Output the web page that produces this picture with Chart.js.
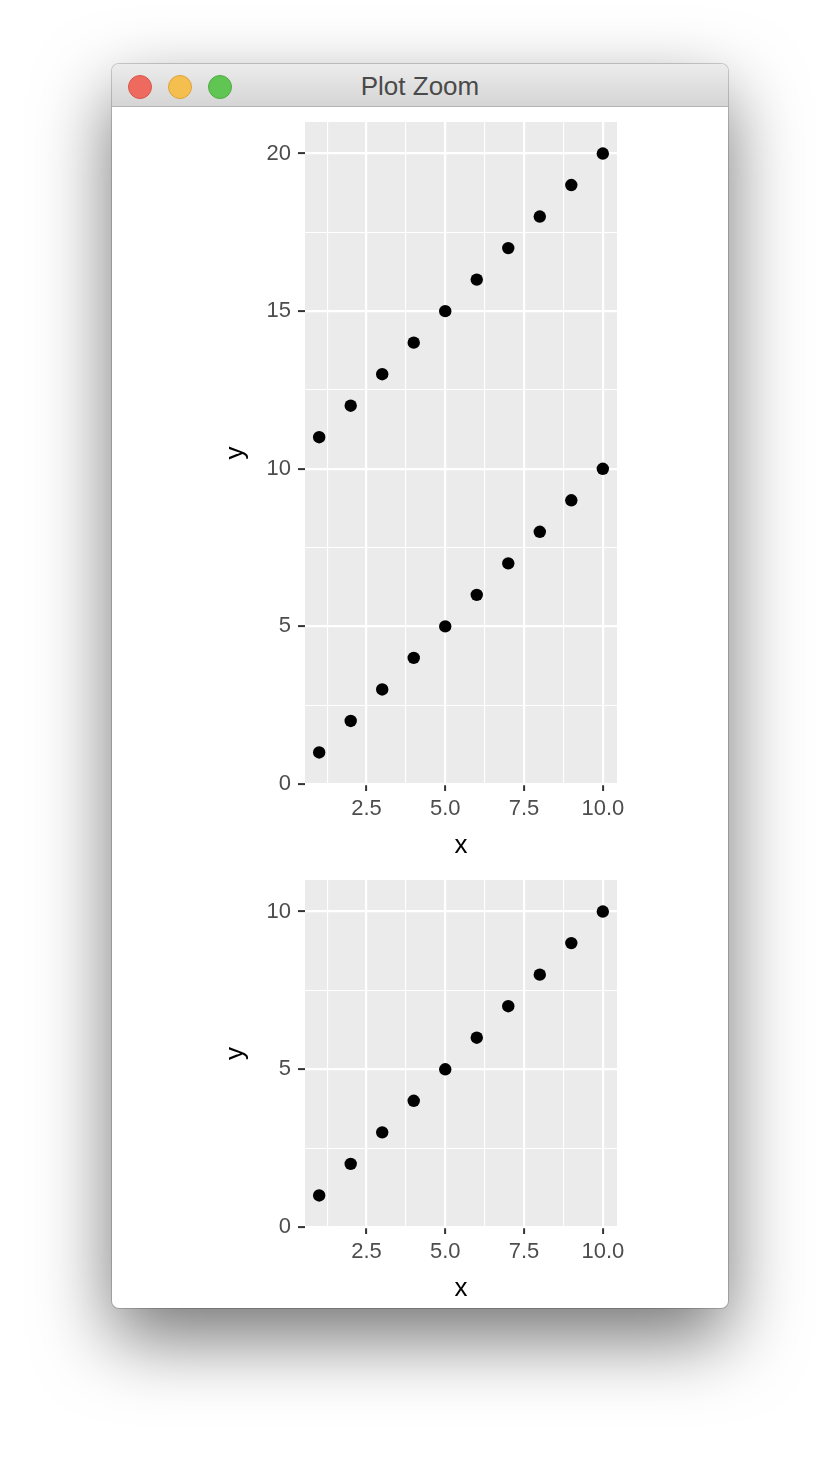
<!DOCTYPE html>
<html>
<head>
<meta charset="utf-8">
<script src="https://cdn.jsdelivr.net/npm/chart.js@4.4.0/dist/chart.umd.min.js"></script>
<style>
  html, body { margin: 0; padding: 0; background: #fff; }
  body { width: 840px; height: 1468px; position: relative; overflow: hidden; font-family: "Liberation Sans", Arial, sans-serif; }
  .win {
    position: absolute; left: 112px; top: 64px; width: 616px; height: 1244px;
    background: #fff; border-radius: 7px; overflow: hidden;
    box-shadow: 0 0 0 1px rgba(0,0,0,0.18), 0 30px 75px rgba(0,0,0,0.55);
  }
  .bar {
    position: absolute; left: 0; top: 0; width: 616px; height: 42px;
    background: linear-gradient(#ececec, #d5d5d5);
    border-bottom: 1px solid #b4b4b4;
  }
  .bar .t { position: absolute; left: 0; width: 616px; top: 0; line-height: 45px; text-align: center; font-size: 26px; color: #4a4a4a; }
  .dot { position: absolute; top: 11px; width: 22px; height: 22px; border-radius: 50%; }
  canvas { position: absolute; }
</style>
</head>
<body>
<div class="win">
  <div class="bar">
    <div class="dot" style="left:16px;background:#ee6a5f;border:1px solid #d8574c"></div>
    <div class="dot" style="left:56px;background:#f5bf4f;border:1px solid #dca43a"></div>
    <div class="dot" style="left:96px;background:#61c554;border:1px solid #4eac41"></div>
    <div class="t">Plot Zoom</div>
  </div>
</div>
<canvas id="chart-top" width="440" height="760" style="left:212px;top:110px"></canvas>
<canvas id="chart-bottom" width="440" height="445" style="left:212px;top:868px"></canvas>
<script>
// data
const xs = [1, 2, 3, 4, 5, 6, 7, 8, 9, 10];
const lowerY = [1, 2, 3, 4, 5, 6, 7, 8, 9, 10];
const upperY = [11, 12, 13, 14, 15, 16, 17, 18, 19, 20];
const bottomY = [1, 2, 3, 4, 5, 6, 7, 8, 9, 10];

const xMajor = [2.5, 5, 7.5, 10];
const xMinor = [1.25, 3.75, 6.25, 8.75];
const topYMajor = [0, 5, 10, 15, 20];
const topYMinor = [2.5, 7.5, 12.5, 17.5];
const bottomYMajor = [0, 5, 10];
const bottomYMinor = [2.5, 7.5];

const FONT = "'Liberation Sans', Arial, sans-serif";

const panelBg = {
  id: 'panelBg',
  beforeDraw(chart) {
    const { ctx, chartArea: a } = chart;
    ctx.save();
    ctx.fillStyle = '#ebebeb';
    ctx.fillRect(a.left, a.top, a.right - a.left, a.bottom - a.top);
    ctx.restore();
  }
};

function toPoints(ys) {
  return xs.map((x, i) => ({ x: x, y: ys[i] }));
}

function gridFor(major) {
  return {
    color: '#ffffff',
    lineWidth: c => major.includes(c.tick.value) ? 2.2 : 1.1,
    drawTicks: true,
    tickLength: 7,
    tickWidth: 2,
    tickColor: c => major.includes(c.tick.value) ? '#333333' : 'rgba(0,0,0,0)'
  };
}

function makePlot(id, seriesList, yMax, yMajor, yMinor) {
  new Chart(document.getElementById(id), {
    type: 'scatter',
    data: {
      datasets: seriesList.map(ys => ({
        data: toPoints(ys),
        backgroundColor: '#000',
        borderWidth: 0,
        pointRadius: 6.2
      }))
    },
    plugins: [panelBg],
    options: {
      responsive: false,
      animation: false,
      devicePixelRatio: 1,
      layout: { padding: { top: 12, right: 35, left: 0, bottom: 0 } },
      plugins: { legend: { display: false }, tooltip: { enabled: false } },
      scales: {
        x: {
          type: 'linear', min: 0.55, max: 10.45,
          afterBuildTicks: s => { s.ticks = xMajor.concat(xMinor).sort((a, b) => a - b).map(v => ({ value: v })); },
          afterFit: s => { s.height = 86; s.paddingLeft = 0; s.paddingRight = 0; },
          grid: gridFor(xMajor),
          border: { display: false },
          ticks: {
            autoSkip: false, maxRotation: 0, padding: 5, color: '#4d4d4d',
            font: { family: FONT, size: 22 },
            callback: v => xMajor.includes(v) ? v.toFixed(1) : ''
          },
          title: { display: true, text: 'x', color: '#000', font: { family: FONT, size: 26 }, padding: { top: 0, bottom: 9 } }
        },
        y: {
          type: 'linear', min: 0, max: yMax,
          afterBuildTicks: s => { s.ticks = yMajor.concat(yMinor).sort((a, b) => a - b).map(v => ({ value: v })); },
          afterFit: s => { s.width = 93; s.paddingTop = 0; s.paddingBottom = 0; },
          grid: gridFor(yMajor),
          border: { display: false },
          ticks: {
            autoSkip: false, padding: 7, color: '#4d4d4d',
            font: { family: FONT, size: 22 },
            callback: v => yMajor.includes(v) ? String(v) : ''
          },
          title: { display: true, text: 'y', color: '#000', font: { family: FONT, size: 26 }, padding: { top: 8, bottom: 0 } }
        }
      }
    }
  });
}

makePlot('chart-top', [lowerY, upperY], 21, topYMajor, topYMinor);
makePlot('chart-bottom', [bottomY], 11, bottomYMajor, bottomYMinor);
</script>
</body>
</html>
